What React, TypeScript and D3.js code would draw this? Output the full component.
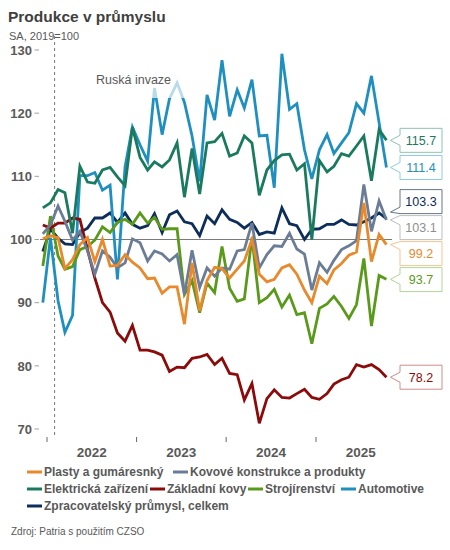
import React from 'react';
import * as d3 from 'd3';

// Monthly data Dec 2021 – Oct 2025 (SA, 2019 = 100)
const months: Date[] = d3.range(47).map((i) => new Date(2021, 11 + i, 15));

const plasty = [100.1, 100.6, 100.3, 95.4, 96.8, 99.2, 100.3, 96.5, 100.0, 95.8, 95.9, 97.6, 96.4, 95.5, 93.8, 93.9, 91.5, 92.5, 92.5, 86.6, 96.3, 88.7, 93.5, 95.6, 95.4, 93.9, 95.3, 96.6, 100.0, 94.5, 93.3, 93.7, 95.5, 96.0, 94.5, 92.0, 90.0, 94.2, 93.0, 95.2, 96.2, 97.5, 98.0, 105.8, 96.5, 100.8, 99.2];
const kovove = [100.9, 102.3, 105.3, 102.9, 99.9, 101.3, 98.2, 94.5, 98.2, 97.2, 95.5, 96.3, 100.1, 99.5, 96.6, 98.2, 97.7, 96.6, 97.6, 91.3, 98.3, 92.4, 95.5, 94.2, 95.5, 95.3, 98.2, 98.4, 102.6, 95.5, 97.6, 99.0, 98.9, 101.0, 98.5, 97.7, 92.0, 96.3, 94.8, 96.7, 98.4, 99.0, 99.8, 108.7, 101.3, 106.1, 103.1];
const elektricka = [105.0, 105.8, 107.9, 107.4, 101.0, 111.6, 109.1, 108.9, 111.0, 111.4, 109.9, 108.5, 117.8, 113.0, 111.0, 112.3, 111.5, 112.6, 115.3, 106.7, 114.4, 107.2, 115.3, 115.5, 116.8, 113.2, 113.7, 116.4, 115.3, 107.0, 111.0, 112.5, 113.4, 113.5, 111.0, 112.0, 100.0, 112.5, 110.7, 111.6, 113.6, 113.2, 114.8, 116.4, 109.3, 117.4, 115.7];
const zakladni = [102.3, 101.8, 102.6, 102.6, 103.4, 103.2, 98.4, 93.9, 90.0, 88.5, 85.2, 83.9, 86.4, 82.5, 82.5, 82.2, 81.7, 79.1, 79.8, 79.7, 81.2, 81.4, 81.8, 80.2, 81.2, 78.8, 78.6, 74.6, 77.2, 70.9, 74.8, 76.2, 75.0, 74.9, 75.6, 76.3, 75.0, 74.7, 75.6, 77.1, 77.8, 78.2, 80.2, 79.8, 80.2, 79.4, 78.2];
const strojirenstvi = [95.8, 103.7, 97.4, 95.3, 95.7, 98.4, 98.9, 99.9, 102.0, 101.1, 102.7, 103.2, 102.4, 104.2, 102.6, 103.5, 101.6, 101.7, 101.7, 91.3, 93.5, 88.4, 93.1, 91.6, 98.9, 92.3, 90.2, 90.6, 100.3, 90.0, 90.8, 92.1, 89.3, 91.2, 88.1, 88.4, 83.5, 89.1, 89.8, 91.0, 89.4, 87.5, 89.7, 97.0, 86.3, 94.3, 93.7];
const automotive = [90.0, 100.3, 90.3, 85.3, 88.0, 110.1, 110.1, 110.6, 107.8, 108.6, 93.7, 111.5, 117.8, 115.0, 112.4, 124.0, 116.6, 122.3, 124.8, 121.7, 116.4, 109.2, 122.9, 118.9, 128.4, 119.5, 123.7, 120.8, 125.3, 116.4, 116.5, 108.2, 129.4, 120.6, 121.5, 114.2, 109.6, 114.2, 116.6, 113.6, 115.3, 116.9, 121.5, 120.0, 125.9, 118.5, 111.4];
const zpracovatelsky = [98.1, 101.7, 100.2, 99.3, 99.2, 101.1, 101.8, 103.4, 103.4, 104.2, 102.7, 104.2, 102.4, 101.8, 102.2, 104.1, 101.1, 103.9, 104.5, 102.8, 102.5, 100.6, 103.7, 102.5, 104.7, 103.2, 102.7, 101.8, 102.7, 100.8, 101.2, 101.0, 105.0, 102.5, 102.2, 100.0, 101.6, 101.7, 102.4, 102.4, 103.1, 102.4, 102.3, 102.8, 103.4, 104.2, 103.3];

const seriesNames = ['Plasty a gumáresnký', 'Kovové konstrukce a produkty', 'Elektrická zařízení', 'Základní kovy', 'Strojírenství', 'Automotive', 'Zpracovatelský průmysl, celkem'];
const seriesValues = [plasty, kovove, elektricka, zakladni, strojirenstvi, automotive, zpracovatelsky];
const seriesColors = ['#e8892b', '#6b7d96', '#1a7a5e', '#8b0a0a', '#5a9a1a', '#1f8fc0', '#0d2d5a'];
const labelTextColors = ['#e8892b', '#8f8f8f', '#1a7a5e', '#8b0a0a', '#5a9a1a', '#1f8fc0', '#0d2d5a'];
const labelBorderColors = ['#f3c593', '#bdbdbd', '#8cc4b0', '#d08c8c', '#b2d597', '#8ecae6', '#66768c'];

const yTicks = [70, 80, 90, 100, 110, 120, 130];
const yearTicks = [2022, 2023, 2024, 2025];
const invasionDate = new Date(2022, 1, 1);

const FONT = "'Liberation Sans', Arial, sans-serif";

// legend layout: [row, x]
const legendLayout: [number, number][] = [[0, 27], [0, 173], [1, 27], [1, 150], [1, 248], [1, 341], [2, 27]];

function dodge(targets: number[], gap: number): number[] {
  const order = targets.map((t, i) => i).sort((a, b) => targets[a] - targets[b]);
  let clusters = order.map((i) => ({ idx: [i], center: targets[i] }));
  const pos = (c: { idx: number[]; center: number }, k: number) => c.center + (k - (c.idx.length - 1) / 2) * gap;
  let changed = true;
  while (changed) {
    changed = false;
    for (let j = 0; j < clusters.length - 1; j++) {
      const a = clusters[j];
      const b = clusters[j + 1];
      const aLast = pos(a, a.idx.length - 1);
      const bFirst = pos(b, 0);
      if (bFirst - aLast < gap) {
        const idx = a.idx.concat(b.idx);
        const center = d3.mean(idx, (i) => targets[i]) as number;
        clusters.splice(j, 2, { idx, center });
        changed = true;
        break;
      }
    }
  }
  const out = new Array(targets.length).fill(0);
  clusters.forEach((c) => c.idx.forEach((i, k) => (out[i] = pos(c, k))));
  return out;
}

export default function App() {
  const x = d3.scaleTime().domain([new Date(2022, 0, 1), new Date(2025, 0, 1)]).range([47, 316]);
  const y = d3.scaleLinear().domain([70, 130]).range([429, 50]);
  const line = d3
    .line<number>()
    .x((_, i) => x(months[i]))
    .y((d) => y(d));

  const lastIdx = months.length - 1;
  const endY = seriesValues.map((s) => y(s[lastIdx]));
  const boxH = 24;
  const boxCy = dodge(endY, 26);
  const boxX = 400;
  const boxW = 42;
  const tipX = x(months[lastIdx]) + 4;

  const drawOrder = d3.range(seriesValues.length).reverse();
  const xInv = x(invasionDate);

  return (
    <svg width={450} height={550} style={{ position: 'absolute', left: 0, top: 0, background: '#fff' }} fontFamily={FONT}>
      <rect x={0} y={0} width={450} height={550} fill="#fff" />
      <text x={8} y={22} fontSize={15.5} fontWeight="bold" fill="#404040">Produkce v průmyslu</text>
      <text x={9} y={40} fontSize={11} fill="#595959">SA, 2019=100</text>

      {yTicks.map((t) => (
        <g key={t}>
          <text x={32} y={y(t)} dy="0.36em" textAnchor="end" fontSize={13} fontWeight="bold" fill="#595959">{t}</text>
          <line x1={34.5} x2={39} y1={y(t)} y2={y(t)} stroke="#a0a0a0" strokeWidth={1} />
        </g>
      ))}

      {yearTicks.map((yr) => (
        <g key={yr}>
          <line x1={x(new Date(yr, 0, 1))} x2={x(new Date(yr, 0, 1))} y1={437} y2={442} stroke="#666" strokeWidth={1} />
          <text x={x(new Date(yr, 6, 2))} y={457} textAnchor="middle" fontSize={13.5} fontWeight="bold" fill="#595959">{yr}</text>
        </g>
      ))}

      <line x1={40} x2={392} y1={y(100)} y2={y(100)} stroke="#7a7a7a" strokeWidth={1} />
      <line x1={xInv} x2={xInv} y1={36} y2={438} stroke="#777" strokeWidth={1} strokeDasharray="3,3" />

      {drawOrder.map((si) => (
        <path key={si} d={line(seriesValues[si]) || ''} fill="none" stroke={seriesColors[si]} strokeWidth={2.8} />
      ))}

      <rect x={90} y={64} width={96} height={34} fill="#fff" opacity={0.68} />
      <text x={96} y={84} fontSize={12.5} fill="#595959">Ruská invaze</text>

      {seriesValues.map((s, si) => {
        const cy = boxCy[si];
        const top = cy - boxH / 2;
        const bottom = cy + boxH / 2;
        const ty = Math.max(top + 2, Math.min(bottom - 1.5, endY[si]));
        const b1 = Math.max(top, ty - 5);
        const b2 = Math.min(bottom, ty + 5);
        const d = `M${boxX},${top}H${boxX + boxW}V${bottom}H${boxX}V${b2}L${tipX},${ty}L${boxX},${b1}Z`;
        return (
          <g key={si}>
            <path d={d} fill="#fff" stroke={labelBorderColors[si]} strokeWidth={1} />
            <text x={boxX + boxW / 2} y={cy} dy="0.36em" textAnchor="middle" fontSize={12.5} fill={labelTextColors[si]}>
              {s[lastIdx].toFixed(1)}
            </text>
          </g>
        );
      })}

      {seriesNames.map((name, si) => {
        const [row, lx] = legendLayout[si];
        const ly = 472 + row * 17;
        return (
          <g key={name}>
            <line x1={lx} x2={lx + 15} y1={ly} y2={ly} stroke={seriesColors[si]} strokeWidth={3} />
            <text x={lx + 17} y={ly} dy="0.36em" fontSize={12} fontWeight="bold" fill="#595959">{name}</text>
          </g>
        );
      })}

      <text x={11} y={535} fontSize={10} fill="#595959">Zdroj: Patria s použitím CZSO</text>
    </svg>
  );
}
